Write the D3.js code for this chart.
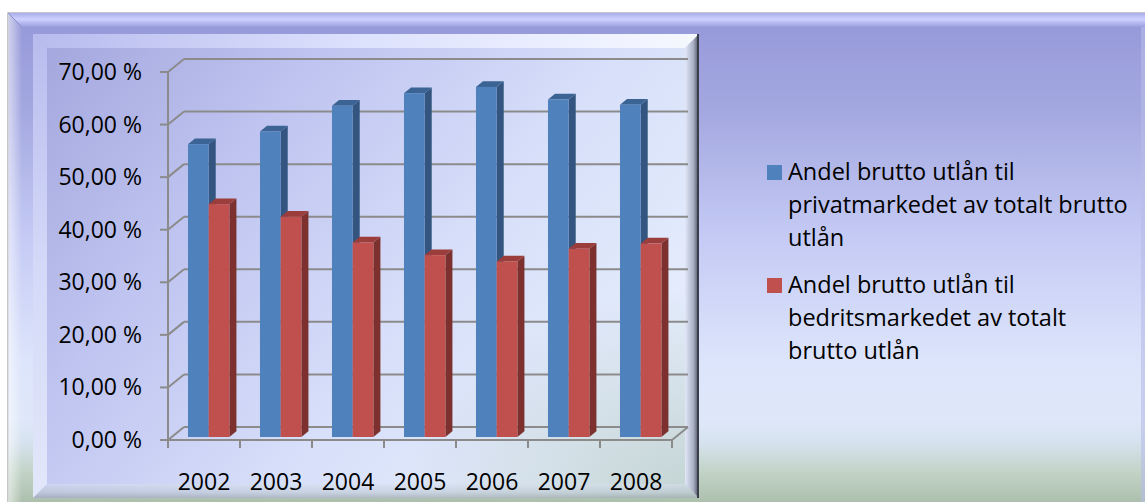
<!DOCTYPE html>
<html><head><meta charset="utf-8">
<script src="https://cdn.jsdelivr.net/npm/d3@7"></script>
<style>
body{margin:0;background:#fff}
svg{display:block}
text{font-family:"Open Sans","Noto Sans",sans-serif;fill:#000}
</style>
</head><body>
<svg id="c" width="1145" height="502"></svg>
<script>
// ---- data ----
const years = ["2002","2003","2004","2005","2006","2007","2008"];
const privat = [0.557, 0.581, 0.630, 0.654, 0.666, 0.642, 0.632];
const bedrift = [0.443, 0.419, 0.370, 0.346, 0.334, 0.358, 0.368];
const yTicks = [0, 0.1, 0.2, 0.3, 0.4, 0.5, 0.6, 0.7];
const yTickLabels = ["0,00 %","10,00 %","20,00 %","30,00 %","40,00 %","50,00 %","60,00 %","70,00 %"];
const seriesNames = [
  ["Andel brutto utlån til","privatmarkedet av totalt brutto","utlån"],
  ["Andel brutto utlån til","bedritsmarkedet av totalt","brutto utlån"]
];
const seriesColors = [
  {front:"#4f81bd", side:"#33557f", top:"#3b6393"},
  {front:"#c0504d", side:"#7d312f", top:"#9a3d3b"}
];

// ---- svg ----
const svg = d3.select("#c");
const defs = svg.append("defs");
function lin(id, x1,y1,x2,y2, stops){
  const g = defs.append("linearGradient").attr("id",id)
    .attr("x1",x1).attr("y1",y1).attr("x2",x2).attr("y2",y2);
  stops.forEach(s=>g.append("stop").attr("offset",s[0]).attr("stop-color",s[1]).attr("stop-opacity", s[2]===undefined?1:s[2]));
}
lin("outerBg",0,0,0,1,[[0,"#9598d8"],[0.2,"#a4a8e0"],[0.45,"#c4caf4"],[0.7,"#dce4fb"],[0.82,"#dfe8fa"],[0.87,"#d6e2ee"],[0.93,"#c2d3c6"],[1,"#a9bca9"]]);
lin("outerTop",0,0,0,1,[[0,"#a9ade9"],[0.45,"#cdd1ff"],[0.7,"#b6baf2"],[1,"#9a9edd"]]);
lin("outerLeft",0,0,1,0,[[0,"#ffffff",0.55],[0.4,"#ffffff",0.35],[1,"#ffffff",0]]);
lin("plotBg",0,0,1,0.55,[[0,"#a2a5dc"],[0.35,"#bfc4f0"],[0.7,"#d8e0fa"],[1,"#e4ecfc"]]);
{
  const r = defs.append("radialGradient").attr("id","plotGreen").attr("cx",1).attr("cy",1).attr("r",0.45);
  r.append("stop").attr("offset",0).attr("stop-color","#a8c0b0").attr("stop-opacity",0.55);
  r.append("stop").attr("offset",1).attr("stop-color","#a8c0b0").attr("stop-opacity",0);
}
lin("pTop",0,0,1,0,[[0,"#b7bbee"],[0.5,"#dde2fd"],[1,"#f6f8ff"]]);
lin("pLeft",0,0,0,1,[[0,"#b8bcee"],[0.5,"#d4d9f8"],[1,"#e2e7fa"]]);
lin("pRight",0,0,1,0,[[0,"#e2e8f8"],[0.6,"#a9b0c4"],[0.85,"#6a7080"],[1,"#3c4050"]]);
lin("pBottom",0,0,0,1,[[0,"#d8e0ee"],[0.6,"#b8c4cc"],[1,"#8c9898"]]);

// outer frame
const OX=8, OY=13, OB=14;
svg.append("rect").attr("x",OX).attr("y",OY).attr("width",1145-OX+5).attr("height",502-OY+5)
  .attr("fill","url(#outerBg)").attr("stroke","#a3a3a8").attr("stroke-width",1.2);
svg.append("polygon").attr("points",`${OX},${OY} 1145,${OY} 1145,${OY+OB} ${OX+OB},${OY+OB}`).attr("fill","url(#outerTop)");
svg.append("polygon").attr("points",`${OX},${OY} ${OX+OB},${OY+OB} ${OX+OB},502 ${OX},502`).attr("fill","url(#outerLeft)");
svg.append("line").attr("x1",OX).attr("y1",OY).attr("x2",OX+OB).attr("y2",OY+OB).attr("stroke","#8c90cc").attr("stroke-width",1);
svg.append("rect").attr("x",1141).attr("y",OY+OB).attr("width",4).attr("height",502).attr("fill","#b8bce8").attr("opacity",0.6);

// plot panel
const P = {x0:33, y0:34, x1:699, y1:498, b:14};
svg.append("rect").attr("x",P.x0).attr("y",P.y0).attr("width",P.x1-P.x0).attr("height",P.y1-P.y0).attr("fill","url(#plotBg)");
svg.append("rect").attr("x",P.x0).attr("y",P.y0).attr("width",P.x1-P.x0).attr("height",P.y1-P.y0).attr("fill","url(#plotGreen)");
svg.append("polygon").attr("points",`${P.x0},${P.y0} ${P.x1},${P.y0} ${P.x1-P.b},${P.y0+P.b} ${P.x0+P.b},${P.y0+P.b}`).attr("fill","url(#pTop)");
svg.append("polygon").attr("points",`${P.x0},${P.y0} ${P.x0+P.b},${P.y0+P.b} ${P.x0+P.b},${P.y1-P.b} ${P.x0},${P.y1}`).attr("fill","url(#pLeft)");
svg.append("polygon").attr("points",`${P.x1},${P.y0} ${P.x1},${P.y1} ${P.x1-P.b},${P.y1-P.b} ${P.x1-P.b},${P.y0+P.b}`).attr("fill","url(#pRight)");
svg.append("polygon").attr("points",`${P.x0},${P.y1} ${P.x1},${P.y1} ${P.x1-P.b},${P.y1-P.b} ${P.x0+P.b},${P.y1-P.b}`).attr("fill","url(#pBottom)").attr("opacity",0.55);
svg.append("line").attr("x1",P.x1-1).attr("x2",P.x1-1).attr("y1",P.y0).attr("y2",P.y1).attr("stroke","#3a3d4a").attr("stroke-width",2);

// ---- scales ----
const y = d3.scaleLinear().domain([0,0.7]).range([440,72]);
const x = d3.scaleBand().domain(years).range([168,672]).padding(0);
const DX = 16, DY = -13;           // full depth offset
const Z0 = 0.23, ZD = 0.44;        // bar depth start / size
const proj = (px,py,z)=>[px+DX*z, py+DY*z];
const GRID = "#8b8b8b";

// back wall gridlines + left wall diagonals
const g = svg.append("g");
yTicks.forEach(t=>{
  const [bx,by] = proj(x.range()[0], y(t), 1);
  const [ex] = proj(x.range()[1], y(t), 1);
  g.append("line").attr("x1",bx).attr("y1",by).attr("x2",ex).attr("y2",by).attr("stroke",GRID).attr("stroke-width",2);
  g.append("line").attr("x1",x.range()[0]).attr("y1",y(t)).attr("x2",bx).attr("y2",by).attr("stroke",GRID).attr("stroke-width",2);
  g.append("line").attr("x1",x.range()[0]-8).attr("y1",y(t)).attr("x2",x.range()[0]).attr("y2",y(t)).attr("stroke",GRID).attr("stroke-width",2);
});
// vertical axis
g.append("line").attr("x1",168).attr("x2",168).attr("y1",y(0.7)).attr("y2",y(0)).attr("stroke",GRID).attr("stroke-width",2);
// floor front edge and right edge
g.append("line").attr("x1",x.range()[0]).attr("x2",x.range()[1]).attr("y1",y(0)).attr("y2",y(0)).attr("stroke",GRID).attr("stroke-width",2);
{
  const [rx,ry] = proj(x.range()[1], y(0), 1);
  g.append("line").attr("x1",x.range()[1]).attr("y1",y(0)).attr("x2",rx).attr("y2",ry).attr("stroke",GRID).attr("stroke-width",2);
}
// x ticks
const bounds = years.map(d=>x(d)).concat([x.range()[1]]);
bounds.forEach(bx=>{
  g.append("line").attr("x1",bx).attr("x2",bx).attr("y1",y(0)).attr("y2",y(0)+8).attr("stroke",GRID).attr("stroke-width",2);
});

// ---- bars ----
const barOff = 16.3, barW = 20.7;
const bars = svg.append("g");
years.forEach((yr,i)=>{
  [privat[i], bedrift[i]].forEach((v,s)=>{
    const c = seriesColors[s];
    const fx0 = x(yr) + barOff + s*barW, fx1 = fx0 + barW;
    const [ax0, ayT] = proj(fx0, y(v), Z0);
    const [ax1] = proj(fx1, y(v), Z0);
    const [, ayB] = proj(fx0, y(0), Z0);
    const [bx0, byT] = proj(fx0, y(v), Z0+ZD);
    const [bx1] = proj(fx1, y(v), Z0+ZD);
    const [, byB] = proj(fx0, y(0), Z0+ZD);
    bars.append("polygon").attr("points",`${ax1},${ayT} ${bx1},${byT} ${bx1},${byB} ${ax1},${ayB}`).attr("fill",c.side);
    bars.append("polygon").attr("points",`${ax0},${ayT} ${ax1},${ayT} ${bx1},${byT} ${bx0},${byT}`).attr("fill",c.top);
    bars.append("rect").attr("x",ax0).attr("y",ayT).attr("width",ax1-ax0).attr("height",ayB-ayT).attr("fill",c.front);
  });
});

// ---- labels ----
const FS = 23;
svg.append("g").selectAll("text").data(yTicks).join("text")
  .attr("x",142).attr("y",t=>y(t)+8).attr("text-anchor","end")
  .attr("font-size",FS).text((t,i)=>yTickLabels[i]);
svg.append("g").selectAll("text").data(years).join("text")
  .attr("x",d=>x(d)+x.bandwidth()/2).attr("y",490).attr("text-anchor","middle")
  .attr("font-size",FS).text(d=>d);

// ---- legend ----
const legendTop = [165, 278];
const lg = svg.append("g");
seriesNames.forEach((lines,s)=>{
  lg.append("rect").attr("x",767).attr("y",legendTop[s]).attr("width",15).attr("height",15).attr("fill",seriesColors[s].front);
  lines.forEach((ln,j)=>{
    lg.append("text").attr("x",788).attr("y",legendTop[s]+14.5+j*33.3).attr("font-size",23.5).text(ln);
  });
});
</script>
</body></html>
